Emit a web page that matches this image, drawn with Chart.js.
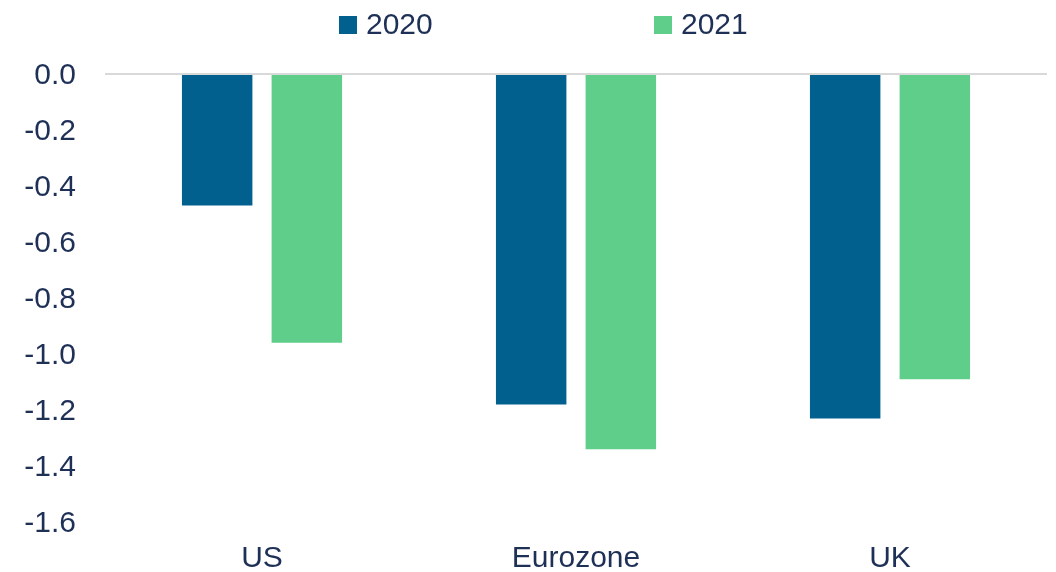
<!DOCTYPE html>
<html>
<head>
<meta charset="utf-8">
<script src="https://cdn.jsdelivr.net/npm/chart.js@4/dist/chart.umd.min.js"></script>
<style>
  html, body { margin: 0; padding: 0; background: #fff; }
  #wrap { width: 1056px; height: 572px; position: relative; }
</style>
</head>
<body>
<div id="wrap"><canvas id="growthChart"></canvas></div>
<script>
const regions = ["US", "Eurozone", "UK"];
const years = ["2020", "2021"];
const values2020 = [-0.47, -1.18, -1.23];
const values2021 = [-0.96, -1.34, -1.09];

const yMin = -1.6;
const yMax = 0;
const yStep = 0.2;

const navy = "#1f3057";
const blue = "#02608f";
const green = "#5fce8a";
const fontFamily = "'Liberation Sans', Arial, sans-serif";

// legend drawn by hand so the two entries can sit far apart
const topLegend = {
    id: "topLegend",
    afterDraw(chart){
        const ctx = chart.ctx;
        const startX = 339, stepX = 315, midY = 25, box = 18;
        ctx.save();
        ctx.font = "30px " + fontFamily;
        ctx.textBaseline = "middle";
        chart.data.datasets.forEach((ds, i) => {
            const x = startX + i * stepX;
            ctx.fillStyle = ds.backgroundColor;
            ctx.fillRect(x, midY - box / 2, box, box);
            ctx.fillStyle = navy;
            ctx.fillText(ds.label, x + box + 9, midY + 1);
        });
        ctx.restore();
    }
};

new Chart(document.getElementById("growthChart"), {
    type: "bar",
    data: {
        labels: regions,
        datasets: [
            { label: years[0], data: values2020, backgroundColor: blue },
            { label: years[1], data: values2021, backgroundColor: green }
        ]
    },
    options: {
        responsive: true,
        maintainAspectRatio: false,
        animation: false,
        categoryPercentage: 0.571,
        barPercentage: 0.786,
        layout: { padding: { top: 74, left: 24, right: 9, bottom: 0 } },
        plugins: {
            legend: { display: false },
            tooltip: { enabled: false }
        },
        scales: {
            x: {
                grid: { display: false },
                border: { display: false },
                ticks: {
                    color: navy,
                    font: { family: fontFamily, size: 30 },
                    padding: 11
                },
                afterFit: s => { s.height = 50; }
            },
            y: {
                min: yMin,
                max: yMax,
                border: { display: false },
                grid: {
                    drawTicks: false,
                    lineWidth: 2,
                    color: c => (c.tick && c.tick.value === 0) ? "#d9d9d9" : "rgba(0,0,0,0)"
                },
                ticks: {
                    stepSize: yStep,
                    color: navy,
                    font: { family: fontFamily, size: 30 },
                    padding: 29,
                    labelOffset: 2,
                    callback: v => Number(v).toFixed(1)
                },
                afterFit: s => { s.width = 81; }
            }
        }
    },
    plugins: [topLegend]
});
</script>
</body>
</html>
